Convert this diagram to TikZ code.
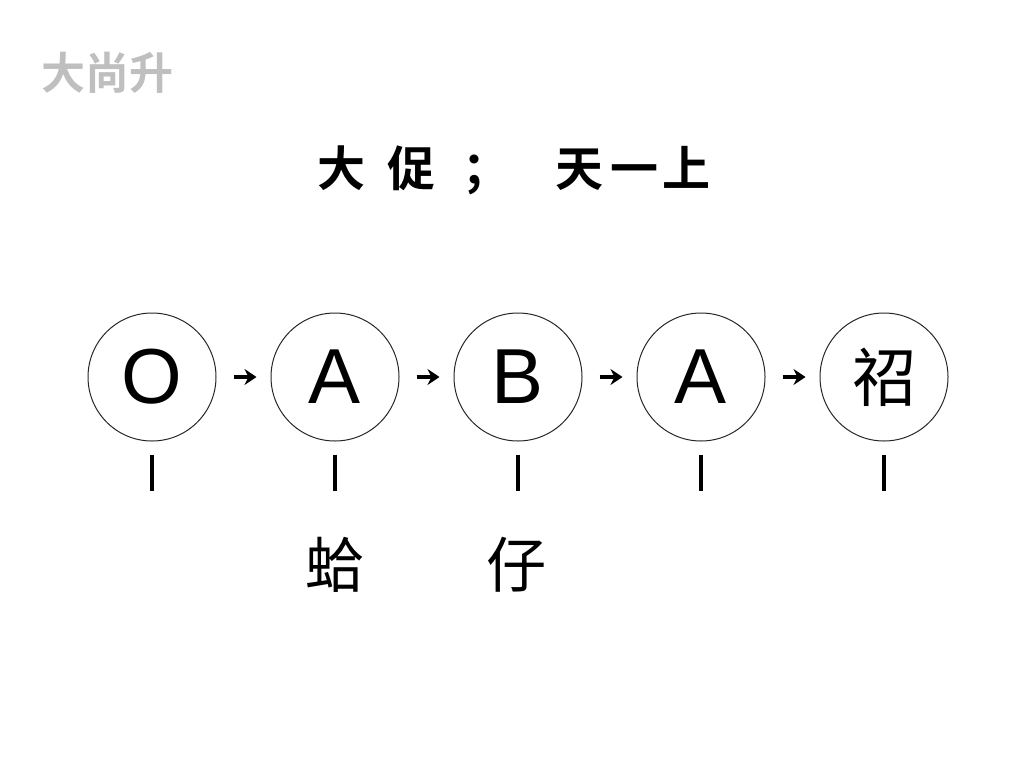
\documentclass[tikz,border=0pt]{standalone}
\usepackage{fontspec}
\setmainfont{Liberation Sans}
\newfontfamily\cjk{Noto Sans CJK SC}
\newfontfamily\cjkb{Noto Sans CJK SC Bold}
\usetikzlibrary{positioning}
\usetikzlibrary{arrows.meta}
\tikzset{>=Stealth}
\tikzstyle{state} = [draw=black!85, circle, line width=1pt, minimum size=128pt,
inner sep=0pt, font=\fontsize{78}{78}\selectfont]
\tikzstyle{line} = [draw, line width=3.4pt, -{Stealth[length=12pt,width=16pt]}]

\begin{document}
\begin{tikzpicture}[x=1pt, y=-1pt,
	tickline/.style={draw, line width=3.6pt},
	marklabel/.style={font=\cjk\fontsize{60}{60}\selectfont}]
	\useasboundingbox (0,0) rectangle (1024,768);
	\node [text=black!25, font=\cjkb\fontsize{44}{44}\selectfont] (logo) at (107,73) {大尚升};
	\node [font=\cjkb\fontsize{48}{48}\selectfont] (title) at (514,170) {大\hspace{22pt}促\hspace{27pt}；\hspace{45pt}天\hspace{7pt}一\hspace{4pt}上};
	\node [state] (S0) at (152,377) {O};
	\node [state, right=54pt of S0] (S1) {A};
	\node [state, right=54pt of S1] (S2) {B};
	\node [state, right=54pt of S2] (S3) {A};
	\node [state, right=54pt of S3, font=\cjk\fontsize{64}{64}\selectfont] (S4) {祒};
	%% Steps
	\path [line, shorten <=17pt, shorten >=14pt] (S0) -- (S1);
	\path [line, shorten <=17pt, shorten >=14pt] (S1) -- (S2);
	\path [line, shorten <=17pt, shorten >=14pt] (S2) -- (S3);
	\path [line, shorten <=17pt, shorten >=14pt] (S3) -- (S4);
	%% Ticks
	\foreach \s in {S0,S1,S2,S3,S4}
		\path [tickline] ([yshift=-13pt]\s.south) -- ++(0,36);
	\node [marklabel] (M1) at (335,565) {蛤};
	\node [marklabel] (M2) at (516,565) {仔};
\end{tikzpicture}
\end{document}
